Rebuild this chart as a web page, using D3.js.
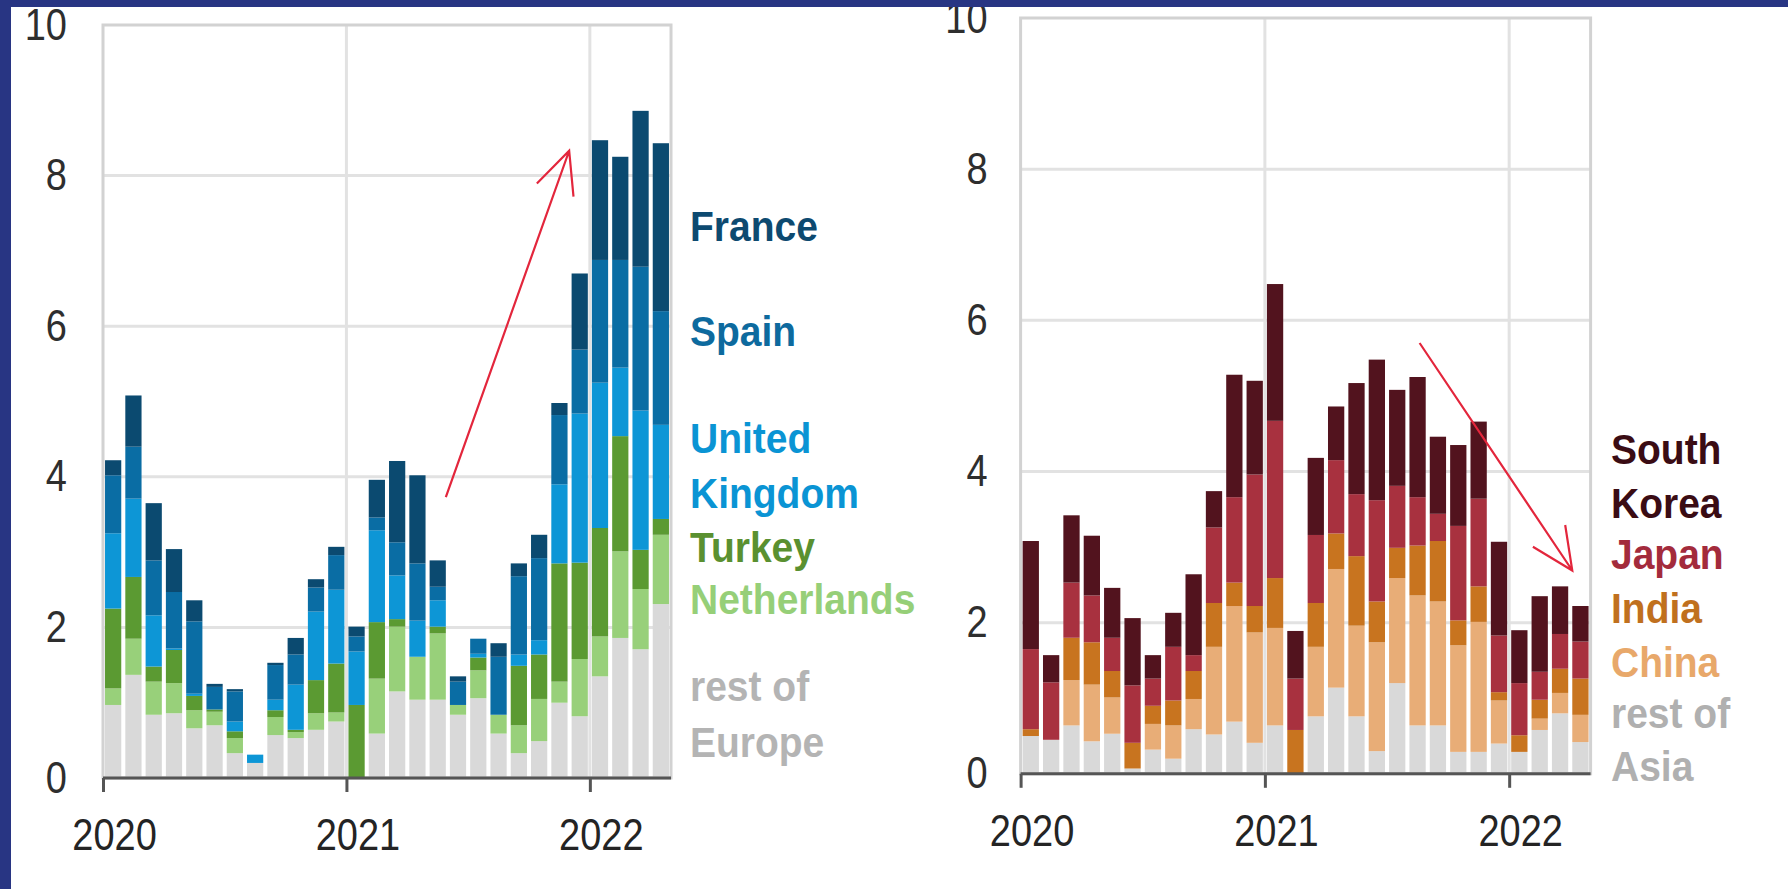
<!DOCTYPE html>
<html><head><meta charset="utf-8">
<script src="https://cdn.jsdelivr.net/npm/d3@7"></script>
<style>
body{margin:0;background:#fff;overflow:hidden}
svg{display:block}
text{font-family:"Liberation Sans",Arial,sans-serif}
.stretch{transform-box:fill-box;transform-origin:center;transform:scaleY(1.09)}
.stretch2{transform-box:fill-box;transform-origin:center;transform:scaleY(1.15)}
</style>
</head><body><svg id="c" width="1788" height="889"></svg>
<script>
// ---- categories ----
const months = ["2020-01","2020-02","2020-03","2020-04","2020-05","2020-06","2020-07","2020-08","2020-09","2020-10","2020-11","2020-12",
                "2021-01","2021-02","2021-03","2021-04","2021-05","2021-06","2021-07","2021-08","2021-09","2021-10","2021-11","2021-12",
                "2022-01","2022-02","2022-03","2022-04"];
const yearTickLabels = ["2020","2021","2022"];
const yearTickMonths = [0,12,24];
const yTickValues = [0,2,4,6,8,10];

// ---- Europe series (bottom to top) ----
const euRest        = [0.97,1.37,0.84,0.86,0.66,0.70,0.33,0.20,0.57,0.53,0.64,0.75, 0.00,0.59,1.15,1.04,1.04,0.84,1.06,0.59,0.33,0.49,1.00,0.82, 1.35,1.86,1.71,2.31];
const euNetherlands = [0.22,0.48,0.44,0.40,0.24,0.18,0.20,0.00,0.24,0.08,0.22,0.12, 0.00,0.73,0.86,0.57,0.88,0.13,0.37,0.25,0.37,0.56,0.28,0.76, 0.53,1.15,0.80,0.92];
const euTurkey      = [1.06,0.82,0.20,0.44,0.19,0.03,0.09,0.00,0.09,0.03,0.44,0.65, 0.97,0.75,0.10,0.00,0.09,0.00,0.17,0.00,0.79,0.59,1.57,1.28, 1.44,1.53,0.52,0.21];
const euUK          = [1.00,1.04,0.68,0.02,0.03,0.00,0.13,0.11,0.14,0.60,0.91,0.98, 0.71,1.22,0.58,0.48,0.35,0.00,0.05,0.00,0.15,0.19,1.05,1.98, 1.93,0.91,1.85,1.25];
const euSpain       = [0.77,0.69,0.73,0.75,0.96,0.30,0.40,0.00,0.46,0.40,0.32,0.46, 0.20,0.17,0.44,0.76,0.18,0.31,0.20,0.77,1.04,1.09,0.92,0.85, 1.63,1.43,1.91,1.51];
const euFrance      = [0.20,0.68,0.76,0.57,0.28,0.04,0.03,0.00,0.03,0.22,0.11,0.11, 0.13,0.50,1.08,1.17,0.35,0.07,0.00,0.18,0.17,0.31,0.16,1.01, 1.59,1.37,2.07,2.23];

// ---- Asia series (bottom to top) ----
const asRest   = [0.50,0.45,0.64,0.43,0.53,0.07,0.32,0.20,0.59,0.52,0.69,0.41, 0.64,0.00,0.76,1.14,0.76,0.30,1.20,0.64,0.64,0.29,0.29,0.40, 0.29,0.58,0.80,0.42];
const asChina  = [0.00,0.00,0.60,0.75,0.48,0.00,0.34,0.44,0.40,1.16,1.53,1.46, 1.29,0.00,0.92,1.57,1.20,1.44,1.39,1.72,1.64,1.41,1.72,0.57, 0.00,0.15,0.27,0.36];
const asIndia  = [0.09,0.00,0.56,0.56,0.35,0.34,0.24,0.33,0.37,0.58,0.31,0.35, 0.66,0.58,0.58,0.47,0.92,0.54,0.40,0.66,0.80,0.33,0.47,0.11, 0.22,0.25,0.32,0.48];
const asJapan  = [1.06,0.76,0.73,0.62,0.44,0.76,0.36,0.71,0.21,1.00,1.13,1.74, 2.08,0.68,0.90,0.97,0.82,1.34,0.82,0.64,0.36,1.25,1.16,0.75, 0.69,0.37,0.46,0.49];
const asKorea  = [1.43,0.36,0.89,0.79,0.66,0.89,0.31,0.45,1.07,0.48,1.62,1.24, 1.81,0.63,1.02,0.71,1.47,1.86,1.27,1.59,1.02,1.07,1.02,1.24, 0.70,1.00,0.63,0.47];

// ---- legend labels ----
const euLabels = [["rest of","Europe"],["Netherlands"],["Turkey"],["United","Kingdom"],["Spain"],["France"]];
const asLabels = [["rest of","Asia"],["China"],["India"],["Japan"],["South","Korea"]];

// ---- annotation arrows (month position, value) ----
const euArrow = [[16.9,3.73],[22.98,8.33]];
const asArrow = [[19.6,5.70],[27.1,2.69]];

// ---- styles / layout ----
const euColors = ["#d9d9d9","#98d07a","#5b9a32","#0d96d6","#0a6da4","#0b4a70"];
const euText   = ["#b4b4b4","#96cf78","#5a9030","#0a94d4","#0d6a9e","#0d4a70"];
const asColors = ["#d9d9d9","#e8ad77","#c8741f","#a8313f","#52131e"];
const asText   = ["#b0b0b0","#e8a86a","#c0701e","#a32b3c","#3a0c14"];

const svg = d3.select("#c");

function drawChart(cfg){
  const keys = cfg.series.map((_,i)=>"s"+i);
  const rows = months.map((m,j)=>{const r={month:m}; cfg.series.forEach((s,i)=>r["s"+i]=s[j]); return r;});
  const stacked = d3.stack().keys(keys)(rows);
  const x = d3.scaleBand().domain(months).range([cfg.x0,cfg.x1]).paddingInner(0.2).paddingOuter(0.1);
  const xt = d3.scaleLinear().domain([0,months.length]).range([cfg.x0,cfg.x1]);
  const y = d3.scaleLinear().domain([0,10]).range([cfg.yb,cfg.yt]);
  const g = svg.append("g");

  // gridlines
  g.append("g").selectAll("line").data([2,4,6,8]).join("line")
    .attr("x1",cfg.x0).attr("x2",cfg.x1).attr("y1",d=>y(d)).attr("y2",d=>y(d))
    .attr("stroke","#e2e2e2").attr("stroke-width",3);
  g.append("g").selectAll("line").data([12,24]).join("line")
    .attr("x1",d=>xt(d)).attr("x2",d=>xt(d)).attr("y1",y(0)).attr("y2",y(10))
    .attr("stroke","#e2e2e2").attr("stroke-width",3);
  // frame
  g.append("rect").attr("x",cfg.x0).attr("y",y(10)).attr("width",cfg.x1-cfg.x0).attr("height",y(0)-y(10))
    .attr("fill","none").attr("stroke","#d2d2d2").attr("stroke-width",3);

  // bars
  g.append("g").selectAll("g").data(stacked).join("g").attr("fill",(d,i)=>cfg.colors[i])
    .selectAll("rect").data(d=>d).join("rect")
    .attr("x",d=>x(d.data.month)).attr("width",x.bandwidth())
    .attr("y",d=>y(d[1])).attr("height",d=>Math.max(0,y(d[0])-y(d[1])));

  // y axis
  const ya = g.append("g").attr("transform",`translate(${cfg.x0},0)`)
    .call(d3.axisLeft(y).tickValues(yTickValues).tickSize(0).tickPadding(cfg.yPad).tickFormat(d3.format("d")));
  ya.select(".domain").remove();
  ya.selectAll("text").attr("font-size",38).attr("fill","#2e2e2e").style("font-family","'Liberation Sans',Arial,sans-serif").attr("class","stretch2");

  // x axis
  const xa = g.append("g").attr("transform",`translate(0,${cfg.yb})`)
    .call(d3.axisBottom(xt).tickValues(yearTickMonths).tickSize(14).tickPadding(29)
      .tickFormat((d,i)=>yearTickLabels[i]));
  xa.select(".domain").attr("stroke","#555").attr("stroke-width",3).attr("d",`M${cfg.x0},0H${cfg.x1}`);
  xa.selectAll(".tick line").attr("stroke","#555").attr("stroke-width",3);
  xa.selectAll("text").attr("font-size",38).attr("fill","#242424").attr("dx",11)
    .style("font-family","'Liberation Sans',Arial,sans-serif").attr("class","stretch2");

  // legend
  const lg = g.append("g");
  cfg.legend.forEach((lines,i)=>{
    lines.forEach((t,k)=>{
      lg.append("text").attr("x",cfg.legendX).attr("y",cfg.legendY[i][k])
        .attr("font-size",39).attr("font-weight","bold").attr("fill",cfg.textColors[i])
        .attr("class","stretch").text(t);
    });
  });

  // arrow
  const [p0,p1] = cfg.arrow.map(([m,v])=>[xt(m),y(v)]);
  const ang = Math.atan2(p0[1]-p1[1], p0[0]-p1[0]);
  const L = 46, a = 25*Math.PI/180;
  const w1 = [p1[0]+L*Math.cos(ang+a), p1[1]+L*Math.sin(ang+a)];
  const w2 = [p1[0]+L*Math.cos(ang-a), p1[1]+L*Math.sin(ang-a)];
  g.append("path").attr("d",d3.line()([p0,p1]) + "M" + w1 + "L" + p1 + "L" + w2)
    .attr("fill","none").attr("stroke","#e3263c").attr("stroke-width",2.2);
}

drawChart({series:[euRest,euNetherlands,euTurkey,euUK,euSpain,euFrance], colors:euColors, textColors:euText,
  x0:103, x1:671, yb:778, yt:25, yPad:36, legend:euLabels, legendX:690,
  legendY:[[700,756],[613],[561],[452,507],[345],[240]], arrow:euArrow});

drawChart({series:[asRest,asChina,asIndia,asJapan,asKorea], colors:asColors, textColors:asText,
  x0:1020.6, x1:1590.6, yb:773.8, yt:18, yPad:33, legend:asLabels, legendX:1611,
  legendY:[[727,780],[676],[622],[568],[463,517]], arrow:asArrow});

// navy frame
svg.append("rect").attr("x",0).attr("y",0).attr("width",1788).attr("height",7).attr("fill","#283583");
svg.append("rect").attr("x",0).attr("y",0).attr("width",11).attr("height",889).attr("fill","#283583");
</script>
</body></html>
